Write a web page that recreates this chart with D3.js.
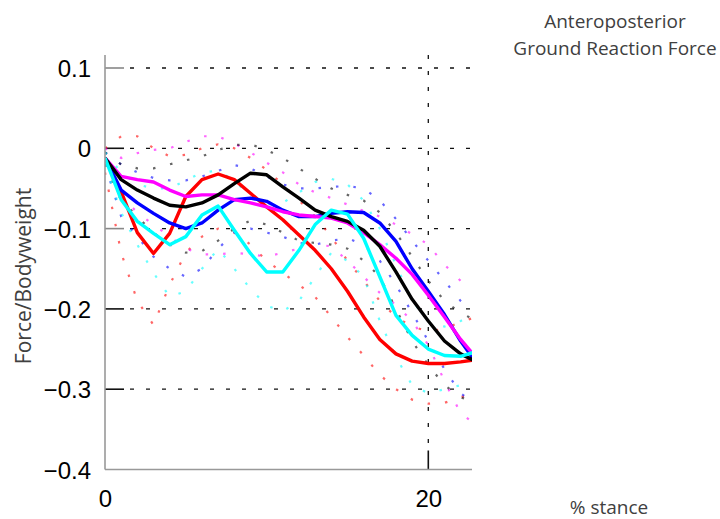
<!DOCTYPE html>
<html><head><meta charset="utf-8">
<script src="https://cdn.jsdelivr.net/npm/d3@7"></script>
<style>body{margin:0;background:#fff;}svg{display:block;}</style>
</head><body>
<svg id="c" width="720" height="519"></svg>
<script>
// ---- data ----
const pctStance = [0,1,2,3,4,5,6,7,8,9,10,11,12,13,14,15,16,17,18,19,20,21,22,23];
const yTicks = [0.1, 0, -0.1, -0.2, -0.3, -0.4];
const yTickLabels = ["0.1", "0", "\u22120.1", "\u22120.2", "\u22120.3", "\u22120.4"];
const xTicks = [0, 20];
const xTickLabels = ["0", "20"];

const redMean = [-0.012,-0.054,-0.105,-0.131,-0.106,-0.060,-0.039,-0.032,-0.039,-0.056,-0.073,-0.089,-0.108,-0.127,-0.150,-0.178,-0.210,-0.238,-0.256,-0.265,-0.268,-0.268,-0.266,-0.263];
const redUpper = [0.0,0.015,0.015,0.0,-0.01,-0.008,0.0,0.005,0.0,-0.012,-0.027,-0.045,-0.065,-0.085,-0.11,-0.14,-0.165,-0.19,-0.21,-0.222,-0.228,-0.225,-0.216,-0.21];
const redLower = [-0.03,-0.13,-0.19,-0.22,-0.17,-0.13,-0.11,-0.1,-0.105,-0.12,-0.14,-0.155,-0.17,-0.185,-0.21,-0.235,-0.258,-0.282,-0.3,-0.313,-0.318,-0.317,-0.31,-0.305];

const blackMean = [-0.012,-0.039,-0.052,-0.062,-0.071,-0.073,-0.068,-0.058,-0.044,-0.031,-0.033,-0.048,-0.062,-0.077,-0.085,-0.091,-0.102,-0.122,-0.154,-0.188,-0.215,-0.240,-0.256,-0.266];
const blackUpper = [-0.005,-0.02,-0.025,-0.025,-0.02,-0.015,-0.01,-0.002,0.004,0.005,-0.002,-0.012,-0.025,-0.038,-0.05,-0.058,-0.065,-0.08,-0.105,-0.135,-0.165,-0.19,-0.205,-0.215];
const blackLower = [-0.02,-0.065,-0.085,-0.105,-0.12,-0.13,-0.128,-0.115,-0.1,-0.09,-0.095,-0.105,-0.115,-0.118,-0.12,-0.125,-0.14,-0.16,-0.2,-0.24,-0.27,-0.295,-0.31,-0.318];

const blueMean = [-0.012,-0.052,-0.068,-0.081,-0.093,-0.100,-0.093,-0.077,-0.064,-0.062,-0.066,-0.077,-0.085,-0.085,-0.081,-0.079,-0.080,-0.093,-0.116,-0.150,-0.178,-0.207,-0.240,-0.268];
const blueUpper = [-0.005,-0.02,-0.03,-0.037,-0.04,-0.04,-0.035,-0.028,-0.021,-0.025,-0.035,-0.045,-0.05,-0.05,-0.048,-0.047,-0.05,-0.065,-0.088,-0.115,-0.14,-0.165,-0.19,-0.205];
const blueLower = [-0.02,-0.085,-0.11,-0.135,-0.15,-0.16,-0.15,-0.125,-0.105,-0.1,-0.105,-0.11,-0.118,-0.12,-0.115,-0.112,-0.12,-0.14,-0.17,-0.205,-0.24,-0.275,-0.305,-0.32];

const magentaMean = [-0.012,-0.035,-0.039,-0.042,-0.052,-0.060,-0.058,-0.058,-0.064,-0.068,-0.073,-0.079,-0.083,-0.085,-0.087,-0.093,-0.105,-0.120,-0.137,-0.157,-0.183,-0.210,-0.238,-0.262];
const magentaUpper = [0.0,-0.012,-0.006,-0.002,0.0,0.008,0.015,0.015,0.006,-0.005,-0.018,-0.03,-0.045,-0.055,-0.062,-0.07,-0.078,-0.085,-0.095,-0.107,-0.12,-0.145,-0.165,-0.175];
const magentaLower = [-0.02,-0.06,-0.08,-0.095,-0.11,-0.125,-0.132,-0.132,-0.13,-0.132,-0.135,-0.13,-0.125,-0.12,-0.122,-0.14,-0.16,-0.18,-0.195,-0.215,-0.245,-0.29,-0.33,-0.345];

const cyanMean = [-0.012,-0.064,-0.091,-0.106,-0.120,-0.110,-0.083,-0.072,-0.102,-0.131,-0.154,-0.154,-0.127,-0.095,-0.077,-0.082,-0.112,-0.160,-0.208,-0.233,-0.250,-0.258,-0.259,-0.253];
const cyanUpper = [-0.005,-0.03,-0.045,-0.05,-0.05,-0.04,-0.03,-0.028,-0.04,-0.06,-0.07,-0.068,-0.055,-0.042,-0.038,-0.045,-0.065,-0.1,-0.145,-0.19,-0.215,-0.222,-0.215,-0.205];
const cyanLower = [-0.02,-0.08,-0.12,-0.155,-0.185,-0.178,-0.15,-0.125,-0.15,-0.175,-0.196,-0.203,-0.19,-0.16,-0.13,-0.14,-0.16,-0.215,-0.26,-0.295,-0.305,-0.3,-0.295,-0.29];

const seriesNames = ["red","blue","magenta","black","cyan"];
const seriesColors = ["#ff0000","#0000ff","#ff00ff","#000000","#00ffff"];
const seriesMean = [redMean, blueMean, magentaMean, blackMean, cyanMean];
const seriesUpper = [redUpper, blueUpper, magentaUpper, blackUpper, cyanUpper];
const seriesLower = [redLower, blueLower, magentaLower, blackLower, cyanLower];

// ---- layout ----
const svg = d3.select("#c");
const pLeft = 105, pRight = 472, pTop = 55, pBottom = 469.5;
const x = d3.scaleLinear().domain([0, 20]).range([pLeft, 428.3]);
const y = d3.scaleLinear().domain([0.1, -0.4]).range([68, 469.5]);

svg.append("defs").append("clipPath").attr("id","clip")
  .append("rect").attr("x", pLeft).attr("y", 30).attr("width", pRight-pLeft).attr("height", pBottom-30);

// grid lines (dotted)
const grid = svg.append("g");
yTicks.slice(0,5).forEach(v => {
  grid.append("line").attr("x1", pLeft+19).attr("x2", pRight).attr("y1", y(v)).attr("y2", y(v))
    .attr("stroke","#111").attr("stroke-width",1.3).attr("stroke-dasharray","4,12").attr("stroke-dashoffset",-6);
  grid.append("line").attr("x1", pLeft).attr("x2", pLeft+19).attr("y1", y(v)).attr("y2", y(v))
    .attr("stroke", (v===0.1||v===-0.1) ? "#888" : "#111").attr("stroke-width",1.6);
});
grid.append("line").attr("x1", x(20)).attr("x2", x(20)).attr("y1", pTop).attr("y2", pBottom-19)
  .attr("stroke","#111").attr("stroke-width",1.3).attr("stroke-dasharray","4,12");
grid.append("line").attr("x1", x(20)).attr("x2", x(20)).attr("y1", pBottom-19).attr("y2", pBottom)
  .attr("stroke","#111").attr("stroke-width",1.6);

// series
const plot = svg.append("g").attr("clip-path","url(#clip)");
const line = d3.line().x((d,i) => x(pctStance[i])).y(d => y(d));
seriesNames.forEach((n, k) => {
  [seriesUpper[k], seriesLower[k]].forEach(arr => {
    plot.append("path").attr("d", line(arr)).attr("fill","none")
      .attr("stroke", seriesColors[k]).attr("stroke-opacity",0.6).attr("stroke-width",2.2)
      .attr("stroke-dasharray","2.5,15");
  });
});
seriesNames.forEach((n, k) => {
  plot.append("path").attr("d", line(seriesMean[k])).attr("fill","none")
    .attr("stroke", seriesColors[k]).attr("stroke-width",3.4).attr("stroke-linejoin","round");
});

// axes lines
svg.append("line").attr("x1", pLeft).attr("x2", pLeft).attr("y1", pTop).attr("y2", pBottom)
  .attr("stroke","#999").attr("stroke-width",1.6);
svg.append("line").attr("x1", pLeft).attr("x2", pRight).attr("y1", pBottom).attr("y2", pBottom)
  .attr("stroke","#999").attr("stroke-width",1.6);

// tick labels via d3 axes (labels only)
const yAxis = d3.axisLeft(y).tickValues(yTicks).tickSize(0).tickPadding(0)
  .tickFormat((d,i) => yTickLabels[i]);
const gy = svg.append("g").attr("transform", `translate(${pLeft-14},0)`).call(yAxis);
gy.select(".domain").remove();
gy.selectAll("text").attr("font-family","'Liberation Sans', Arial, sans-serif").attr("font-size",24)
  .attr("fill","#000").attr("dy","0.36em");

const xAxis = d3.axisBottom(x).tickValues(xTicks).tickSize(0).tickPadding(0)
  .tickFormat((d,i) => xTickLabels[i]);
const gx = svg.append("g").attr("transform", `translate(0,${pBottom})`).call(xAxis);
gx.select(".domain").remove();
gx.selectAll("text").attr("font-family","'Liberation Sans', Arial, sans-serif").attr("font-size",24)
  .attr("fill","#000").attr("dy",0).attr("y",37);

// titles
const tf = "'Open Sans', 'Noto Sans', sans-serif";
svg.append("text").attr("x",615).attr("y",28).attr("text-anchor","middle")
  .attr("font-family",tf).attr("font-size",19).attr("fill","#404040").text("Anteroposterior");
svg.append("text").attr("x",615).attr("y",55).attr("text-anchor","middle")
  .attr("font-family",tf).attr("font-size",19).attr("fill","#404040").text("Ground Reaction Force");
svg.append("text").attr("x",609).attr("y",514).attr("text-anchor","middle")
  .attr("font-family",tf).attr("font-size",19).attr("fill","#404040").text("% stance");
svg.append("text").attr("transform","translate(31,276) rotate(-90)").attr("text-anchor","middle")
  .attr("font-family",tf).attr("font-size",21).attr("fill","#404040").text("Force/Bodyweight");
</script>
</body></html>
